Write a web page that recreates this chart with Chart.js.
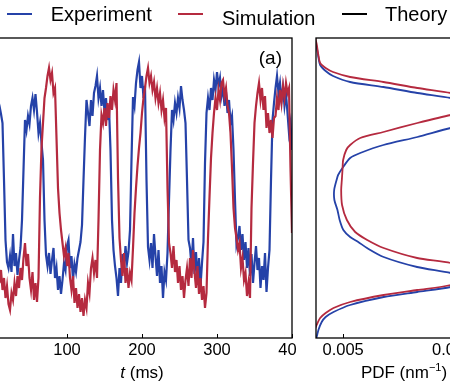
<!DOCTYPE html>
<html><head><meta charset="utf-8">
<script src="https://cdn.jsdelivr.net/npm/chart.js@4.4.0/dist/chart.umd.min.js"></script>
<style>
html,body{margin:0;padding:0;background:#fff;}
body{width:450px;height:392px;overflow:hidden;position:relative;font-family:"Liberation Sans",Arial,sans-serif;}
#left{position:absolute;left:-20px;top:0;}
#right{position:absolute;left:296px;top:0;background:#fff;}
.lg-line{position:absolute;height:2px;}
.lg-text{position:absolute;font-size:20px;line-height:20px;color:#000;white-space:nowrap;}
</style>
</head><body>
<canvas id="left" width="320" height="392"></canvas>
<canvas id="right" width="240" height="392"></canvas>
<div id="legend"></div>
<script>
// ---- data ----
const seriesNames = ['Experiment', 'Simulation', 'Theory'];
const seriesColors = ['#2542a8', '#b52a3f', '#000000'];
const timeTicksMs = [0, 100, 200, 300, 400];
const pdfTicks = [0.005, 0.010];

// [t (ms), position (nm)]
const experimentTrace = [[0,235],[2,228],[4,240],[6,226],[8,238],[10,232],[12,224],[14,215],[16,158],[18,98],[20,76],[22,70],[24,82],[26,66],[28,104],[30,72],[32,85],[34,63],[36,78],[38,90],[40,118],[42,168],[44,218],[46,208],[48,222],[50,214],[52,232],[54,240],[56,228],[58,244],[60,226],[62,205],[64,215],[66,195],[68,178],[70,118],[72,83],[74,72],[76,85],[78,64],[80,78],[82,90],[84,60],[86,70],[88,48],[90,62],[92,44],[94,58],[96,75],[98,68],[100,92],[102,98],[104,70],[106,82],[108,58],[110,74],[112,66],[114,80],[116,88],[118,96],[120,113],[122,158],[124,201],[126,238],[128,225],[130,212],[132,238],[134,222],[136,245],[138,252],[140,262],[142,240],[144,250],[146,232],[148,248],[150,226],[152,240],[154,218],[156,230],[158,188],[160,118],[162,88],[164,72],[166,60],[168,42],[170,70],[172,55],[174,84],[176,68],[178,92],[180,75],[182,86],[184,108],[186,178],[188,241],[190,232],[192,255],[194,268],[196,276],[198,250],[200,262],[202,240],[204,252],[206,158],[208,91],[210,78],[212,95],[214,70],[216,104],[218,82],[220,62],[222,88],[224,55],[226,72],[228,40],[230,66],[232,58],[234,85],[236,138],[238,188],[240,228],[242,218],[244,235],[246,225],[248,240],[250,230],[252,252],[254,238],[256,228],[258,215],[260,158],[262,98],[264,90],[266,72],[268,100],[270,64],[272,86],[274,58],[276,80],[278,52],[280,75],[282,96],[284,175],[286,225],[288,240],[290,228],[292,250],[294,238],[296,258],[298,248],[300,266],[302,252],[304,260],[306,242],[308,250],[310,232],[312,246],[314,225],[316,238],[318,215],[320,222],[322,188],[324,138],[326,93],[328,100],[330,112],[332,88],[334,104],[336,78],[338,96],[340,70],[342,90],[344,62],[346,84],[348,55],[350,75],[352,92],[354,68],[356,80],[358,50],[360,72],[362,58],[364,85],[366,46],[368,70],[370,88],[372,158],[374,218],[376,235],[378,250],[380,262],[382,245],[384,255],[386,238],[388,250],[390,232],[392,244],[394,225],[396,205],[398,215],[400,188]];

const simulationTrace = [[0,70],[2,58],[4,75],[6,62],[8,80],[10,55],[12,68],[14,48],[16,60],[18,40],[20,52],[22,34],[24,28],[26,45],[28,38],[30,55],[32,42],[34,62],[36,50],[38,70],[40,58],[42,80],[44,95],[46,72],[48,84],[50,60],[52,48],[54,66],[56,38],[58,55],[60,36],[62,60],[64,141],[66,190],[68,215],[70,240],[72,250],[74,262],[76,270],[78,258],[80,265],[82,245],[84,250],[86,200],[88,150],[90,125],[92,108],[94,95],[96,82],[98,90],[100,72],[102,85],[104,60],[106,48],[108,62],[110,35],[112,50],[114,30],[116,44],[118,26],[120,40],[122,22],[124,38],[126,30],[128,55],[130,45],[132,70],[134,80],[136,65],[138,78],[140,60],[142,118],[144,188],[146,223],[148,215],[150,230],[152,212],[154,235],[156,220],[158,242],[160,228],[162,248],[164,238],[166,255],[168,160],[170,100],[172,78],[174,62],[176,85],[178,55],[180,70],[182,50],[184,65],[186,58],[188,90],[190,125],[192,150],[194,172],[196,190],[198,205],[200,225],[202,240],[204,250],[206,262],[208,270],[210,255],[212,262],[214,248],[216,256],[218,240],[220,250],[222,235],[224,245],[226,228],[228,238],[230,220],[232,230],[234,150],[236,95],[238,85],[240,70],[242,92],[244,66],[246,78],[248,55],[250,72],[252,48],[254,62],[256,40],[258,58],[260,70],[262,52],[264,80],[266,60],[268,88],[270,66],[272,50],[274,72],[276,44],[278,60],[280,38],[282,52],[284,30],[286,45],[288,100],[290,141],[292,180],[294,205],[296,225],[298,240],[300,228],[302,248],[304,238],[306,255],[308,258],[310,242],[312,250],[314,232],[316,225],[318,205],[320,170],[322,130],[324,110],[326,100],[328,88],[330,95],[332,70],[334,80],[336,58],[338,65],[340,42],[342,55],[344,40],[346,130],[348,175],[350,215],[352,232],[354,245],[356,255],[358,238],[360,250],[362,228],[364,242],[366,210],[368,225],[370,205],[372,218],[374,200],[376,220],[378,222],[380,240],[382,228],[384,248],[386,235],[388,252],[390,240],[392,255],[394,245],[396,250],[398,170],[400,105]];

// [position (nm), PDF (nm^-1)]
const experimentPdf = [[302,0.00360],[291,0.00379],[282,0.00386],[273,0.00395],[267,0.00420],[262,0.00454],[256,0.00532],[251,0.00684],[245,0.00839],[240,0.00991],[233,0.0115],[225,0.0123],[217,0.0115],[210,0.00991],[201,0.00839],[193,0.00684],[185,0.00578],[180,0.00532],[171,0.00500],[163,0.00477],[158,0.00470],[148,0.00459],[138,0.00460],[128,0.00474],[118,0.00484],[108,0.00501],[101,0.00532],[96,0.00569],[90,0.00609],[81,0.00685],[71,0.00838],[65,0.00991],[58,0.0110],[51,0.00991],[46,0.00838],[41,0.00685],[33,0.00532],[26,0.00456],[21,0.00420],[16,0.00402],[8,0.00387],[1,0.00379],[-3,0.00372]];
const simulationPdf = [[302,0.00370],[294,0.00379],[284,0.00386],[275,0.00395],[270,0.00420],[266,0.00454],[261,0.00532],[256,0.00684],[250,0.00839],[245,0.00991],[238,0.0115],[234,0.0120],[229,0.0115],[223,0.00991],[215,0.00839],[206,0.00684],[200,0.00578],[193,0.00532],[188,0.00514],[178,0.00500],[168,0.00497],[158,0.00494],[148,0.00491],[133,0.00495],[118,0.00517],[106,0.00555],[98,0.00610],[90,0.00685],[80,0.00838],[75,0.00991],[65,0.0112],[53,0.00991],[48,0.00838],[43,0.00685],[36,0.00532],[30,0.00456],[25,0.00420],[20,0.00395],[13,0.00379],[3,0.00360]];

// ---- drawing ----
const FONT = '"Liberation Sans", Arial, sans-serif';

const framePlugin = {
  id: 'frame',
  afterDraw(chart, args, opts) {
    const {ctx, chartArea: a, scales: {x}} = chart;
    ctx.save();
    ctx.strokeStyle = '#000';
    ctx.lineWidth = 1.3;
    ctx.strokeRect(a.left, a.top, a.right - a.left, a.bottom - a.top);
    ctx.lineWidth = 1;
    x.ticks.forEach(t => {
      const px = Math.round(x.getPixelForValue(t.value)) + 0.5;
      ctx.beginPath(); ctx.moveTo(px, a.bottom); ctx.lineTo(px, a.bottom - 4); ctx.stroke();
    });
    const parts = opts.title || [];
    let total = 0;
    parts.forEach(p => { ctx.font = p.font; p.w = ctx.measureText(p.text).width; total += p.w; });
    let cx = (a.left + a.right) / 2 - total / 2;
    ctx.fillStyle = '#000';
    ctx.textBaseline = 'alphabetic';
    ctx.textAlign = 'left';
    parts.forEach(p => { ctx.font = p.font; ctx.fillText(p.text, cx, opts.titleY + (p.dy || 0)); cx += p.w; });
    if (opts.panelLabel) {
      ctx.font = '19px ' + FONT;
      ctx.textAlign = 'right';
      ctx.fillText(opts.panelLabel, a.right - 10, a.top + 26);
    }
    ctx.restore();
  }
};

function xScale(min, max, tickValues, fmt) {
  return {
    type: 'linear', min, max,
    afterBuildTicks: s => { s.ticks = tickValues.map(v => ({value: v})); },
    afterFit: s => { s.height = 54; s.paddingLeft = 0; s.paddingRight = 0; },
    grid: {display: false, drawTicks: false},
    border: {display: false},
    ticks: {font: {size: 16.5, family: FONT}, color: '#000', padding: 3, maxRotation: 0, autoSkip: false, callback: fmt}
  };
}
const yScale = {type: 'linear', min: 0, max: 300, display: false};
const commonLine = {showLine: true, pointRadius: 0, pointHoverRadius: 0, fill: false};

new Chart(document.getElementById('left'), {
  type: 'scatter',
  data: {
    datasets: [
      {label: seriesNames[0], data: experimentTrace.map(([t, y]) => ({x: t, y})), borderColor: seriesColors[0], borderWidth: 2.2, order: 1, ...commonLine},
      {label: seriesNames[1], data: simulationTrace.map(([t, y]) => ({x: t, y})), borderColor: seriesColors[1], borderWidth: 2.2, order: 0, ...commonLine}
    ]
  },
  options: {
    responsive: false, animation: false, devicePixelRatio: 1,
    layout: {padding: {left: 12, right: 8, top: 38, bottom: 0}},
    scales: {x: xScale(0, 400, timeTicksMs, v => String(v)), y: yScale},
    plugins: {
      legend: {display: false}, tooltip: {enabled: false},
      frame: {title: [{text: 't', font: 'italic 17px ' + FONT}, {text: ' (ms)', font: '17px ' + FONT}], titleY: 378, panelLabel: '(a)'}
    }
  },
  plugins: [framePlugin]
});

new Chart(document.getElementById('right'), {
  type: 'scatter',
  data: {
    datasets: [
      {label: seriesNames[0], data: experimentPdf.map(([p, v]) => ({x: v, y: p})), borderColor: seriesColors[0], borderWidth: 1.8, tension: 0.25, order: 1, ...commonLine},
      {label: seriesNames[1], data: simulationPdf.map(([p, v]) => ({x: v, y: p})), borderColor: seriesColors[1], borderWidth: 1.8, tension: 0.25, order: 0, ...commonLine}
    ]
  },
  options: {
    responsive: false, animation: false, devicePixelRatio: 1,
    layout: {padding: {left: 20, right: 44, top: 38, bottom: 0}},
    scales: {x: xScale(0.00376, 0.0118, pdfTicks, v => v.toFixed(3)), y: yScale},
    plugins: {
      legend: {display: false}, tooltip: {enabled: false},
      frame: {title: [{text: 'PDF (nm', font: '17px ' + FONT}, {text: '\u22121', font: '11px ' + FONT, dy: -7}, {text: ')', font: '17px ' + FONT}], titleY: 378}
    }
  },
  plugins: [framePlugin]
});

// figure-level legend
const legendLayout = [{line: 7, text: 50.7, top: 4}, {line: 178, text: 222, top: 8}, {line: 342, text: 385, top: 4}];
const lg = document.getElementById('legend');
seriesNames.forEach((name, i) => {
  const l = document.createElement('div');
  l.className = 'lg-line';
  l.style.left = legendLayout[i].line + 'px'; l.style.top = '13px'; l.style.width = '25px';
  l.style.background = seriesColors[i];
  lg.appendChild(l);
  const t = document.createElement('div');
  t.className = 'lg-text';
  t.style.left = legendLayout[i].text + 'px'; t.style.top = legendLayout[i].top + 'px';
  t.textContent = name;
  lg.appendChild(t);
});
</script>
</body></html>
